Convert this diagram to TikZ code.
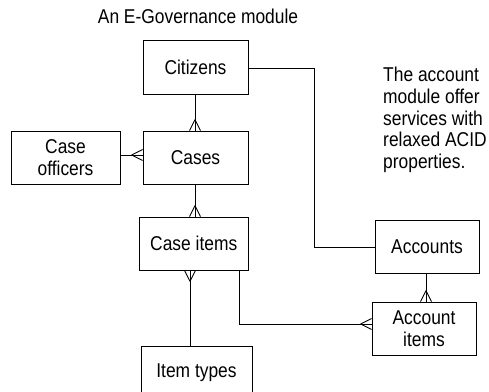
\documentclass[tikz,border=0pt]{standalone}
\usepackage{fontspec}
\setmainfont{Liberation Sans}[FakeStretch=0.87]
\usetikzlibrary{decorations.markings}
\tikzset{
  ent/.style={draw=black, line width=0.9pt, inner sep=0pt, align=center,
    font=\fontsize{20}{22}\selectfont},
  conn/.style={draw=black, line width=0.9pt},
  crowend/.style={postaction={decorate, decoration={markings,
    mark=at position 1 with {\draw[line width=0.9pt] (-11pt,0pt) -- (0pt,5.5pt) (-11pt,0pt) -- (0pt,-5.5pt);}}}},
  lbl/.style={inner sep=0pt, font=\fontsize{20}{21.7}\selectfont}
}
\begin{document}
\begin{tikzpicture}[x=1pt,y=-1pt]
\useasboundingbox (0,0) rectangle (489,391);
\clip (0,0) rectangle (489,391);
\node[lbl] (title) at (198,16.5) {An E-Governance module};
\node[lbl, align=left, anchor=north west] (note) at (383,67) {The account\\module offer\\services with\\relaxed ACID\\properties.};
\node[ent, minimum width=105pt, minimum height=54pt] (cit) at (195.5,67) {Citizens};
\node[ent, minimum width=105pt, minimum height=53pt] (cas) at (195.5,157.5) {Cases};
\node[ent, minimum width=109pt, minimum height=53pt] (co) at (65.5,157.5) {Case\\officers};
\node[ent, minimum width=108.5pt, minimum height=53pt] (ci) at (193.75,243.5) {Case items};
\node[ent, minimum width=111pt, minimum height=53pt] (it) at (196.5,372.5) {Item types};
\node[ent, minimum width=104pt, minimum height=53pt] (acc) at (427,246.5) {Accounts};
\node[ent, minimum width=104pt, minimum height=53pt] (ai) at (424,328.5) {Account\\items};
% connectors
\draw[conn, crowend] ([xshift=-0.5pt]cit.south) -- ([xshift=-0.5pt]cas.north);
\draw[conn, crowend] ([yshift=2.5pt]cas.west -| co.east) -- ([yshift=2.5pt]cas.west);
\draw[conn, crowend] ([xshift=-0.5pt]cas.south) -- ([xshift=-0.5pt]cas.south |- ci.north);
\draw[conn, crowend] ([xshift=-3.75pt]ci.south |- it.north) -- ([xshift=-3.75pt]ci.south);
\draw[conn] ([yshift=-1pt]cit.east) -- ++(66,0) |- ([yshift=-0.5pt]acc.west);
\draw[conn, crowend] ([xshift=45.25pt]ci.south) |- ([yshift=4.5pt]ai.west);
\draw[conn, crowend] ([xshift=-1pt]acc.south) -- ([xshift=-1pt]acc.south |- ai.north);
\end{tikzpicture}
\end{document}
